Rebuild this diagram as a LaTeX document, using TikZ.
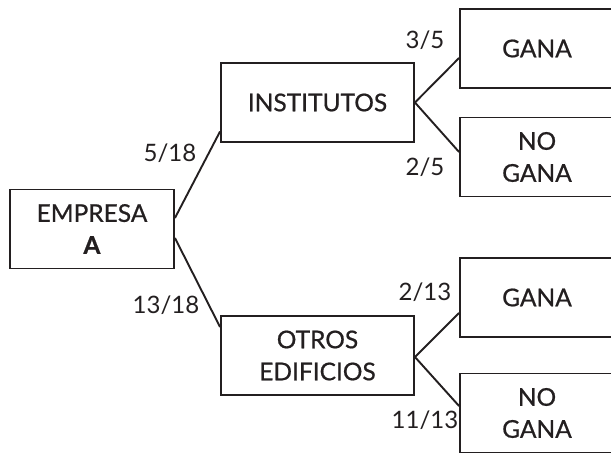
\documentclass[tikz,border=0pt]{standalone}
\usepackage{fontspec}
\setmainfont{Lato}
\newfontfamily\cajafont[FakeBold=0.7]{Lato}
\definecolor{ink}{HTML}{231F20}
\tikzset{
  caja/.style={draw=ink, line width=1.9pt, align=center, text=ink, inner sep=0pt,
    minimum height=79pt, font=\cajafont\fontsize{24.5}{32}\selectfont},
  prob/.style={text=ink, inner sep=0pt, font=\fontsize{24}{28}\selectfont},
  rama/.style={draw=ink, line width=1.9pt},
}
\begin{document}
\begin{tikzpicture}[x=1pt, y=-1pt]
  \useasboundingbox (0,0) rectangle (611,453);
  % cajas
  \node[caja, minimum width=164pt] (empresa) at (92,229) {EMPRESA\\\textbf{A}};
  \node[caja, minimum width=193pt] (inst) at (317.5,102.5) {INSTITUTOS};
  \node[caja, minimum width=193pt] (otros) at (317.5,355.5) {OTROS\\EDIFICIOS};
  \node[caja, minimum width=154pt] (gana1) at (537,48.5) {GANA};
  \node[caja, minimum width=154pt] (nogana1) at (537,157) {NO\\GANA};
  \node[caja, minimum width=154pt] (gana2) at (537,297.5) {GANA};
  \node[caja, minimum width=154pt] (nogana2) at (537,413) {NO\\GANA};
  % ramas
  \draw[rama] ([yshift=11pt]empresa.east) -- ([yshift=-29pt]inst.west);
  \draw[rama] ([yshift=-9pt]empresa.east) -- ([yshift=28.5pt]otros.west);
  \draw[rama] (inst.east) -- ([yshift=-9.5pt]gana1.west);
  \draw[rama] (inst.east) -- ([yshift=5pt]nogana1.west);
  \draw[rama] ([yshift=-1.5pt]otros.east) -- ([yshift=-15.5pt]gana2.west);
  \draw[rama] ([yshift=-1.5pt]otros.east) -- ([yshift=7pt]nogana2.west);
  % probabilidades
  \node[prob] (p1) at (170,153) {5/18};
  \node[prob] (p2) at (166,305) {13/18};
  \node[prob] (p3) at (425,40) {3/5};
  \node[prob] (p4) at (425,167) {2/5};
  \node[prob] (p5) at (425,292) {2/13};
  \node[prob] (p6) at (425,420) {11/13};
\end{tikzpicture}
\end{document}
